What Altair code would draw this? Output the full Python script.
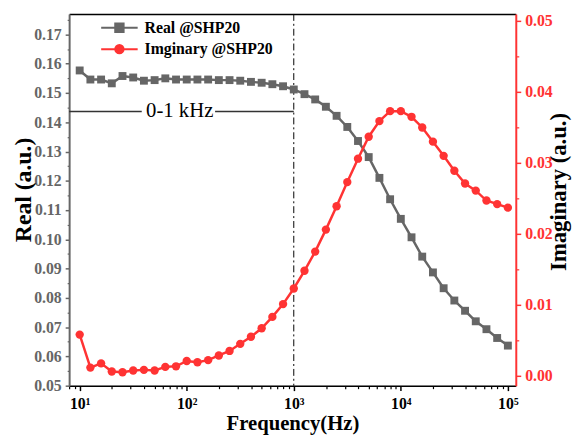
import altair as alt
import pandas as pd

# ---------------- data ----------------
freq_hz = [10, 12.59, 15.85, 19.95, 25.12, 31.62, 39.81, 50.12, 63.1, 79.43,
           100, 125.9, 158.5, 199.5, 251.2, 316.2, 398.1, 501.2, 631.0, 794.3,
           1000, 1259, 1585, 1995, 2512, 3162, 3981, 5012, 6310, 7943,
           10000, 12589, 15849, 19953, 25119, 31623, 39811, 50119, 63096, 79433,
           100000]
real_vals = [0.1577, 0.1546, 0.1546, 0.1533, 0.1558, 0.1553, 0.1542, 0.1544, 0.1550, 0.1546,
             0.1546, 0.1546, 0.1546, 0.1544, 0.1544, 0.1542, 0.1538, 0.1535, 0.1530, 0.1523,
             0.1512, 0.1496, 0.1478, 0.1453, 0.1422, 0.1384, 0.1336, 0.1281, 0.1210, 0.1137,
             0.1070, 0.1007, 0.0941, 0.0887, 0.0833, 0.0791, 0.0756, 0.0720, 0.0693, 0.0663,
             0.0637]
imag_vals = [0.0058, 0.00115, 0.00175, 0.0006, 0.0005, 0.00074, 0.00083, 0.00074, 0.00125, 0.00133,
             0.00208, 0.0019, 0.0022, 0.00286, 0.0035, 0.0045, 0.0055, 0.0067, 0.0083, 0.0101,
             0.0123, 0.0148, 0.0175, 0.0206, 0.0239, 0.0273, 0.0306, 0.0337, 0.0359, 0.0373,
             0.0373, 0.0365, 0.0350, 0.0330, 0.0310, 0.0289, 0.0271, 0.0261, 0.0247, 0.0242,
             0.0237]
real_name = "Real @SHP20"
imag_name = "Imginary @SHP20"

x_major = [10, 100, 1000, 10000, 100000]
x_minor = [8, 9, 20, 30, 40, 50, 60, 70, 80, 90,
           200, 300, 400, 500, 600, 700, 800, 900,
           2000, 3000, 4000, 5000, 6000, 7000, 8000, 9000,
           20000, 30000, 40000, 50000, 60000, 70000, 80000, 90000]
real_ticks = [0.05, 0.06, 0.07, 0.08, 0.09, 0.10, 0.11, 0.12, 0.13, 0.14, 0.15, 0.16, 0.17]
real_minor = [0.055, 0.065, 0.075, 0.085, 0.095, 0.105, 0.115, 0.125, 0.135, 0.145,
              0.155, 0.165, 0.175]
imag_ticks = [0.00, 0.01, 0.02, 0.03, 0.04, 0.05]
imag_minor = [0.005, 0.015, 0.025, 0.035, 0.045]

cutoff_hz = [1000]
band_y = 0.1437
band_label = "0-1 kHz"
band_label_x = 86
band_seg_start = [7.97, 184]
band_seg_end = [38, 1000]

x_domain = [7.97, 118600]
real_domain = [0.05, 0.177]
imag_domain = [-0.0014, 0.051]

# ---------------- styling ----------------
FONT = "Liberation Serif"
GRAY = "#666666"
RED = "#FF3333"

real_df = pd.DataFrame({"freq": freq_hz, "val": real_vals, "series": real_name})
imag_df = pd.DataFrame({"freq": freq_hz, "val": imag_vals, "series": imag_name})
cut_df = pd.DataFrame({"freq": cutoff_hz})
seg_df = pd.DataFrame({"x1": band_seg_start, "x2": band_seg_end, "y": band_y})
lbl_df = pd.DataFrame({"x": [band_label_x], "y": [band_y], "t": [band_label]})

xs = alt.Scale(type="log", domain=x_domain, nice=False)
ys_real = alt.Scale(domain=real_domain, nice=False, zero=False)
ys_imag = alt.Scale(domain=imag_domain, nice=False, zero=False)

SQ_PATH = "M-3.7,0H3.7M-0.85,-0.85H0.85V0.85H-0.85Z"
CI_PATH = "M-3.7,0H3.7M0.85,0A0.85,0.85,0,1,1,-0.85,0A0.85,0.85,0,1,1,0.85,0Z"

x_major_axis = alt.Axis(
    orient="bottom", values=x_major,
    labelExpr="'10' + ['\u2070','\u00b9','\u00b2','\u00b3','\u2074','\u2075'][round(log(datum.value)/LN10)]",
    tickSize=5, tickWidth=1.5, tickColor="black", domainColor="black", domainWidth=1.5,
    labelFont=FONT, labelFontSize=16, labelFontWeight="bold", labelColor="black",
    labelPadding=5, labelFlush=False, labelOverlap=False, grid=False,
    title="Frequency(Hz)", titleFont=FONT, titleFontSize=21, titleFontWeight="bold",
    titleColor="black", titleX=226.5, titleY=44.5, titleBaseline="alphabetic")
x_minor_axis = alt.Axis(
    orient="bottom", values=x_minor, labels=False, tickSize=3, tickWidth=1.2,
    tickColor="black", domain=False, grid=False, title=None)
x_top_axis = alt.Axis(
    orient="top", values=x_major, labels=False, ticks=False, domainColor="black",
    domainWidth=1.5, grid=False, title=None)

real_axis = alt.Axis(
    orient="left", values=real_ticks, format=".2f",
    tickSize=4, tickWidth=1.5, tickColor=GRAY, domainColor=GRAY, domainWidth=2,
    labelFont=FONT, labelFontSize=16, labelFontWeight="bold", labelColor=GRAY,
    labelPadding=4, grid=False,
    title="Real (a.u.)", titleFont=FONT, titleFontSize=24, titleFontWeight="bold",
    titleColor="black", titleAngle=270, titleX=-39, titleY=178, titleBaseline="alphabetic")
real_minor_axis = alt.Axis(
    orient="left", values=real_minor, labels=False, tickSize=2, tickWidth=1.2,
    tickColor=GRAY, domain=False, grid=False, title=None)

imag_axis = alt.Axis(
    orient="right", values=imag_ticks, format=".2f",
    tickSize=5, tickWidth=1.5, tickColor=RED, domainColor=RED, domainWidth=2,
    labelFont=FONT, labelFontSize=16, labelFontWeight="bold", labelColor=RED,
    labelPadding=4, grid=False,
    title="Imaginary (a.u.)", titleFont=FONT, titleFontSize=23, titleFontWeight="bold",
    titleColor="black", titleAngle=270, titleX=50, titleY=180, titleBaseline="alphabetic")
imag_minor_axis = alt.Axis(
    orient="right", values=imag_minor, labels=False, tickSize=3, tickWidth=1.2,
    tickColor=RED, domain=False, grid=False, title=None)

# ---------------- layers ----------------
cut_rule = alt.Chart(cut_df).mark_rule(color="black", strokeWidth=1, strokeDash=[7, 3, 2, 3]).encode(
    x=alt.X("freq:Q", scale=xs, axis=x_top_axis))
seg_rule = alt.Chart(seg_df).mark_rule(color="#333333", strokeWidth=1.5).encode(
    x=alt.X("x1:Q", scale=xs, axis=None), x2="x2:Q",
    y=alt.Y("y:Q", scale=ys_real, axis=None))
seg_text = alt.Chart(lbl_df).mark_text(font=FONT, fontSize=21, color="black", baseline="middle",
                                       align="center").encode(
    x=alt.X("x:Q", scale=xs, axis=None), y=alt.Y("y:Q", scale=ys_real, axis=None), text="t:N")

real_line = alt.Chart(real_df).mark_line(color=GRAY, strokeWidth=2.5).encode(
    x=alt.X("freq:Q", scale=xs, axis=x_major_axis),
    y=alt.Y("val:Q", scale=ys_real, axis=real_axis))
real_pts = alt.Chart(real_df).mark_point(shape="square", filled=True, size=64, opacity=1).encode(
    x=alt.X("freq:Q", scale=xs, axis=None),
    y=alt.Y("val:Q", scale=ys_real, axis=real_minor_axis),
    color=alt.Color("series:N", scale=alt.Scale(domain=[real_name], range=[GRAY]),
                    legend=alt.Legend(title=None, orient="none", legendX=43, legendY=6, padding=0,
                                      symbolType=SQ_PATH, symbolSize=100, symbolStrokeWidth=2,
                                      symbolStrokeColor=GRAY, symbolFillColor=GRAY,
                                      labelOffset=17.5, labelFont=FONT, labelFontSize=16,
                                      labelFontWeight="bold", labelColor="black")))

imag_line = alt.Chart(imag_df).mark_line(color=RED, strokeWidth=2.5).encode(
    x=alt.X("freq:Q", scale=xs, axis=x_minor_axis),
    y=alt.Y("val:Q", scale=ys_imag, axis=imag_axis))
imag_pts = alt.Chart(imag_df).mark_point(shape="circle", filled=True, size=72, opacity=1).encode(
    x=alt.X("freq:Q", scale=xs, axis=None),
    y=alt.Y("val:Q", scale=ys_imag, axis=imag_minor_axis),
    color=alt.Color("series:N", scale=alt.Scale(domain=[imag_name], range=[RED]),
                    legend=alt.Legend(title=None, orient="none", legendX=43, legendY=27.7, padding=0,
                                      symbolType=CI_PATH, symbolSize=100, symbolStrokeWidth=2,
                                      symbolStrokeColor=RED, symbolFillColor=RED,
                                      labelOffset=17.5, labelFont=FONT, labelFontSize=16,
                                      labelFontWeight="bold", labelColor="black")))

chart = alt.layer(cut_rule, seg_rule, seg_text, real_line, real_pts, imag_line, imag_pts).resolve_scale(
    y="independent", color="independent").resolve_axis(x="independent", y="independent").properties(
    width=453, height=377,
    autosize=alt.AutoSizeParams(type="none"),
    padding={"left": 62, "top": 3, "right": 57, "bottom": 50},
).configure_view(stroke=None).configure(background="white")

chart.save("out.html", embed_options={"renderer": "svg", "actions": False})
